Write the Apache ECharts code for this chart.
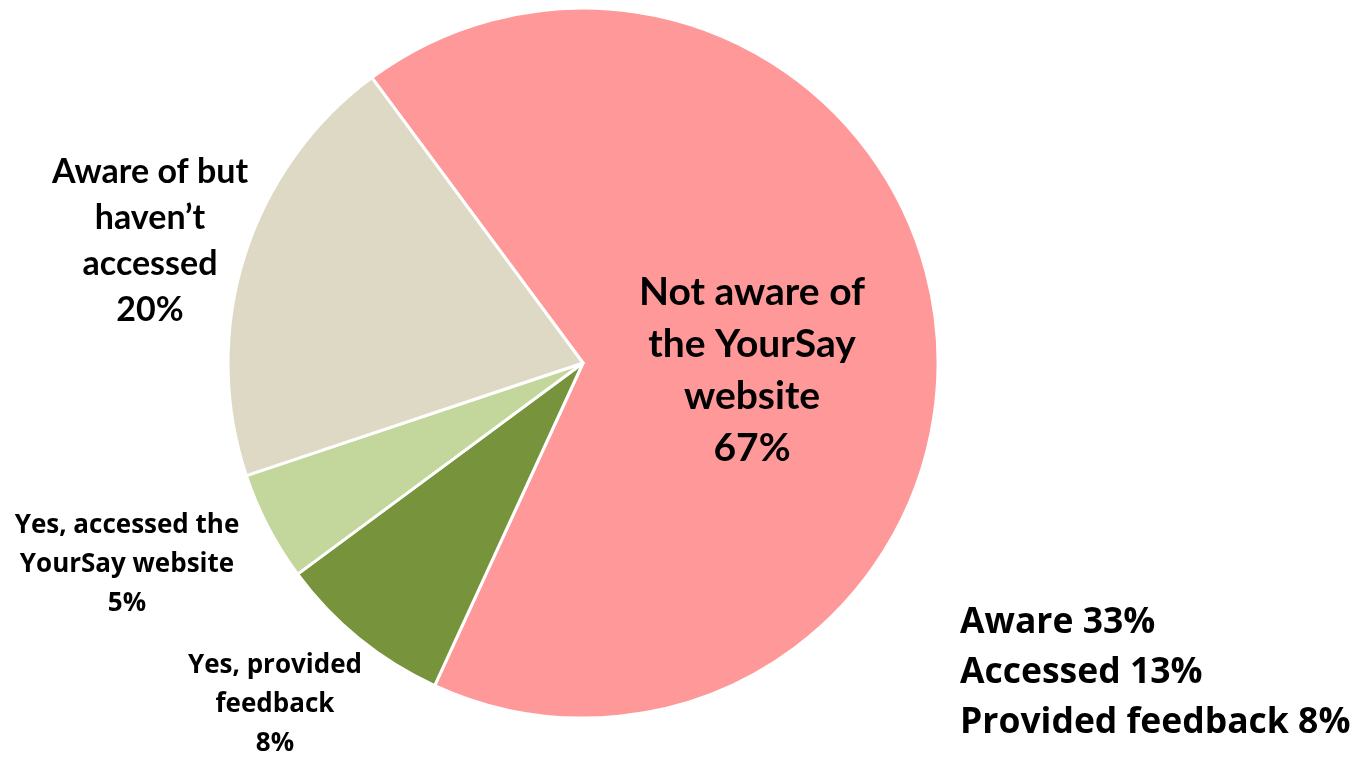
<!DOCTYPE html>
<html>
<head>
<meta charset="utf-8">
<script src="https://cdn.jsdelivr.net/npm/echarts@6/dist/echarts.min.js"></script>
<style>
html,body{margin:0;padding:0;background:#fff;}
#chart{width:1366px;height:757px;}
</style>
</head>
<body>
<div id="chart"></div>
<script>
// Data
const categories = [
  "Not aware of\nthe YourSay\nwebsite",
  "Yes, provided\nfeedback",
  "Yes, accessed the\nYourSay website",
  "Aware of but\nhaven\u2019t\naccessed"
];
const values = [67, 8, 5, 20];
const summaryLines = ["Aware 33%", "Accessed 13%", "Provided feedback 8%"];

const colors = ["#FF9999", "#77933C", "#C3D69B", "#DDD9C4"];
const LATO = "Lato, 'Open Sans', sans-serif";
const OPEN = "'Open Sans', Lato, sans-serif";

// label styling per slice (layout only)
const labelStyles = [
  {x: 752, y: 370, size: 39, lh: 52, font: LATO},
  {x: 275, y: 705, size: 26, lh: 39, font: OPEN},
  {x: 127, y: 565, size: 26, lh: 39, font: OPEN},
  {x: 150, y: 241, size: 34, lh: 46, font: LATO}
];

const chart = echarts.init(document.getElementById('chart'), null, {renderer: 'canvas'});

const data = categories.map((c, i) => ({
  name: c,
  value: values[i],
  itemStyle: {color: colors[i]},
  label: {
    fontSize: labelStyles[i].size,
    lineHeight: labelStyles[i].lh,
    fontFamily: labelStyles[i].font
  }
}));

chart.setOption({
  animation: false,
  backgroundColor: '#ffffff',
  series: [{
    type: 'pie',
    center: [583, 363],
    radius: [0, 355],
    startAngle: 126.5,
    clockwise: true,
    avoidLabelOverlap: false,
    itemStyle: {borderColor: '#ffffff', borderWidth: 3},
    label: {
      show: true,
      position: 'outside',
      formatter: p => p.name + '\n' + p.value + '%',
      color: '#000',
      fontWeight: 'bold',
      align: 'center'
    },
    labelLine: {show: false},
    labelLayout: function (params) {
      const s = labelStyles[params.dataIndex];
      return {x: s.x, y: s.y, align: 'center', verticalAlign: 'middle'};
    },
    emphasis: {disabled: true},
    data: data
  }],
  graphic: [{
    type: 'text',
    left: 960,
    top: 598,
    style: {
      text: summaryLines.join('\n'),
      fontFamily: OPEN,
      fontWeight: 'bold',
      fontSize: 35.5,
      lineHeight: 50,
      fill: '#000'
    }
  }]
});
</script>
</body>
</html>
